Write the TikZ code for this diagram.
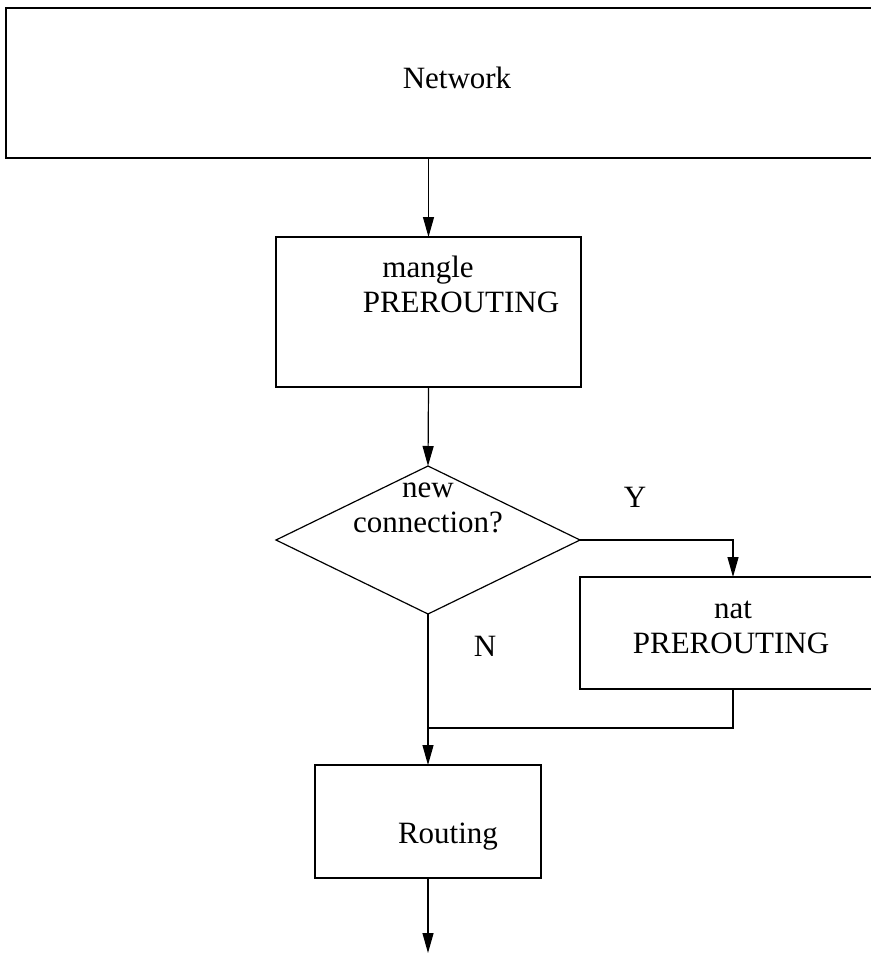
\documentclass[tikz,border=0pt]{standalone}
\usepackage{fontspec}
\setmainfont{Liberation Serif}
\usetikzlibrary{arrows.meta,shapes.geometric}

\begin{document}
\begin{tikzpicture}[x=0.5pt,y=-0.5pt,line width=0.6pt,
    box/.style={draw,rectangle,inner sep=0pt,outer sep=0pt},
    lbl/.style={inner sep=0pt,anchor=base,font=\fontsize{15.5}{18}\selectfont},
    >={Triangle[length=10pt,width=5.5pt]}]
    \useasboundingbox (0,0) rectangle (871,953);
    \clip (0,0) rectangle (871,953);

    % boxes
    \node[box,minimum width=451pt,minimum height=75pt] (net) at (457,83) {};
    \node[box,minimum width=152.5pt,minimum height=75pt] (mangle) at (428.5,312) {};
    \node[draw,diamond,inner sep=0pt,outer sep=0pt,
          minimum width=152pt,minimum height=74pt] (test) at (428,540) {};
    \node[box,minimum width=153pt,minimum height=56pt] (nat) at (733,633) {};
    \node[box,minimum width=113pt,minimum height=56.5pt] (route) at (428,821.5) {};

    % texts
    \node[lbl] (lnet) at (457,88) {Network};
    \node[lbl] (lmangle) at (428,277) {mangle};
    \node[lbl] (lmanglepre) at (461,312) {PREROUTING};
    \node[lbl] (lnew) at (428,497) {new};
    \node[lbl] (lconn) at (428,532) {connection?};
    \node[lbl] (lnat) at (733,618) {nat};
    \node[lbl] (lnatpre) at (731,653) {PREROUTING};
    \node[lbl] (lroute) at (448,843) {Routing};
    \node[lbl] (yes) at (635,507) {Y};
    \node[lbl] (no) at (485,656) {N};

    % connectors
    \coordinate (join) at (428,728);
    \coordinate (exit) at (428,953);
    \draw[->] (mangle.north |- net.south) -- (mangle.north);
    \draw[->] (mangle.south) -- (test.north);
    \draw[->] (test.east) -| (nat.north);
    \draw (nat.south) |- (join);
    \draw[->] (test.south) -- (route.north);
    \draw[->] (route.south) -- (exit);
\end{tikzpicture}
\end{document}
